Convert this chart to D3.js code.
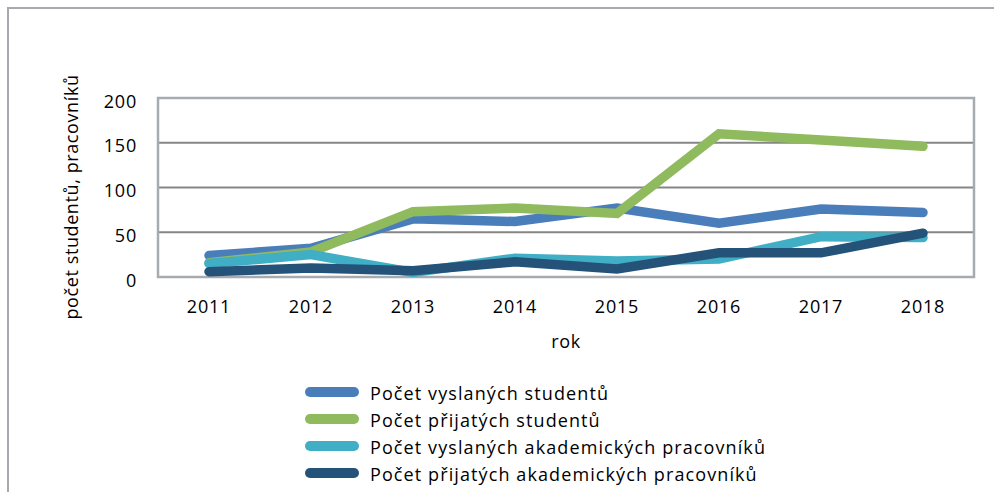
<!DOCTYPE html>
<html>
<head>
<meta charset="utf-8">
<script src="https://cdn.jsdelivr.net/npm/d3@7"></script>
<style>
  body { margin: 0; background: #fff; }
  svg { display: block; font-family: "Open Sans", sans-serif; }
</style>
</head>
<body>
<svg id="chart" width="994" height="492"></svg>
<script>
// data
var years = ["2011", "2012", "2013", "2014", "2015", "2016", "2017", "2018"];
var seriesNames = [
    "Počet vyslaných studentů",
    "Počet přijatých studentů",
    "Počet vyslaných akademických pracovníků",
    "Počet přijatých akademických pracovníků"
];
var sentStudents = [24, 32, 65, 62, 77, 60, 76, 72];
var recvStudents = [16, 28, 73, 77, 71, 160, 153, 146];
var sentStaff = [15, 25, 5, 21, 18, 20, 45, 44];
var recvStaff = [6, 10, 7, 17, 9, 27, 27, 49];
var yTicks = [0, 50, 100, 150, 200];
var colors = ["#4a7ebb", "#8fba5e", "#40aec4", "#245278"];

var svg = d3.select("#chart");
var plot = {left: 158, top: 98, right: 974, bottom: 277};
var fontSize = "18px";

var x = d3.scaleBand()
    .domain(years)
    .range([plot.left, plot.right]);
var y = d3.scaleLinear()
    .domain([0, 200])
    .range([plot.bottom, plot.top]);

// outer frame (runs off the right and bottom edges)
svg.append("rect")
    .attr("x", 8).attr("y", 8)
    .attr("width", 1000).attr("height", 500)
    .attr("fill", "none")
    .attr("stroke", "#a6a9ad")
    .attr("stroke-width", 2);

// gridlines
svg.append("g").selectAll("line")
    .data(yTicks.filter(function(d){ return d > 0 && d < 200; }))
    .enter().append("line")
    .attr("x1", plot.left).attr("x2", plot.right)
    .attr("y1", function(d){ return y(d); })
    .attr("y2", function(d){ return y(d); })
    .attr("stroke", "#868686")
    .attr("stroke-width", 2);

// plot frame
svg.append("rect")
    .attr("x", plot.left).attr("y", plot.top)
    .attr("width", plot.right - plot.left)
    .attr("height", plot.bottom - plot.top)
    .attr("fill", "none")
    .attr("stroke", "#a6abb0")
    .attr("stroke-width", 2.5);

// y axis labels
var yAxis = d3.axisLeft(y).tickValues(yTicks).tickSize(0).tickPadding(21);
var gy = svg.append("g")
    .attr("transform", "translate(" + plot.left + ",0)")
    .call(yAxis);
gy.select(".domain").remove();
gy.selectAll("text")
    .attr("dy", "0.5em")
    .attr("font-size", fontSize)
    .attr("font-family", "'Open Sans', sans-serif")
    .attr("letter-spacing", "0.8px")
    .attr("fill", "#000");

// x axis labels
var xAxis = d3.axisBottom(x).tickSize(0).tickPadding(23);
var gx = svg.append("g")
    .attr("transform", "translate(0," + plot.bottom + ")")
    .call(xAxis);
gx.select(".domain").remove();
gx.selectAll("text")
    .attr("font-size", fontSize)
    .attr("font-family", "'Open Sans', sans-serif")
    .attr("letter-spacing", "0.8px")
    .attr("fill", "#000");

// axis titles
svg.append("text")
    .attr("x", 566).attr("y", 348)
    .attr("text-anchor", "middle")
    .attr("font-size", fontSize)
    .attr("letter-spacing", "0.6px")
    .text("rok");
svg.append("text")
    .attr("transform", "translate(78,197) rotate(-90)")
    .attr("text-anchor", "middle")
    .attr("font-size", fontSize)
    .attr("letter-spacing", "0.6px")
    .text("počet studentů, pracovníků");

// lines
var allSeries = [sentStudents, recvStudents, sentStaff, recvStaff];
var line = d3.line()
    .x(function(d, i){ return x(years[i]) + x.bandwidth() / 2; })
    .y(function(d){ return y(d); });

svg.append("g").selectAll("path")
    .data(allSeries)
    .enter().append("path")
    .attr("d", line)
    .attr("fill", "none")
    .attr("stroke", function(d, i){ return colors[i]; })
    .attr("stroke-width", 9.5)
    .attr("stroke-linecap", "round")
    .attr("stroke-linejoin", "miter");

// legend
var legend = svg.append("g").selectAll("g")
    .data(seriesNames)
    .enter().append("g")
    .attr("transform", function(d, i){ return "translate(305," + (392 + i * 27) + ")"; });
legend.append("line")
    .attr("x1", 5).attr("x2", 49)
    .attr("stroke", function(d, i){ return colors[i]; })
    .attr("stroke-width", 10)
    .attr("stroke-linecap", "round");
legend.append("text")
    .attr("x", 65).attr("y", 8)
    .attr("font-size", fontSize)
    .attr("letter-spacing", "1.1px")
    .text(function(d){ return d; });
</script>
</body>
</html>
